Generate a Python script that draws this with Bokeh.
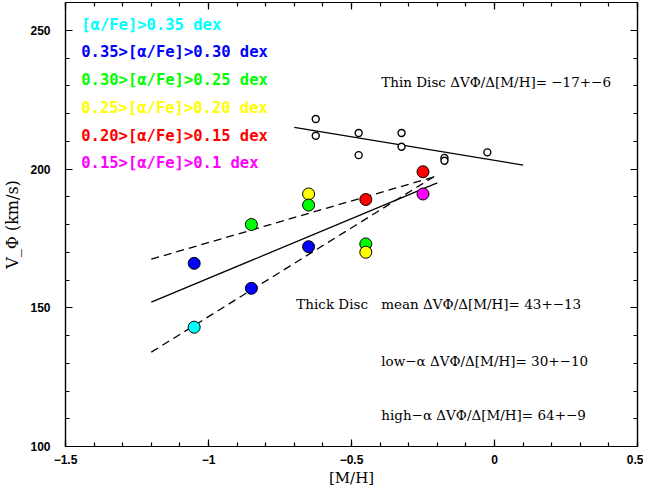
import numpy as np
from bokeh.plotting import figure
from bokeh.models import Range1d, LinearAxis, SingleIntervalTicker, ColumnDataSource
from bokeh.core.properties import value
from bokeh.embed import file_html
from bokeh.resources import INLINE

# ---- data ----
# thick disc, binned in [alpha/Fe]
thick_mh = [-1.05, -1.05, -0.85, -0.85, -0.65, -0.65, -0.65, -0.45, -0.45, -0.45, -0.25, -0.25]
thick_vphi = [143, 166, 157, 180, 191, 187, 172, 189, 173, 170, 199, 191]
thick_bin = [0, 1, 1, 2, 3, 2, 1, 4, 2, 3, 4, 5]
bin_colors = ["#00ffff", "#0000ff", "#00ff00", "#ffff00", "#ff0000", "#ff00ff"]
bin_labels = ["[α/Fe]>0.35 dex", "0.35>[α/Fe]>0.30 dex", "0.30>[α/Fe]>0.25 dex",
              "0.25>[α/Fe]>0.20 dex", "0.20>[α/Fe]>0.15 dex", "0.15>[α/Fe]>0.1 dex"]
legend_y = [252, 242, 232, 222, 212, 202]
legend_x = -1.445

# thin disc
thin_mh = [-0.625, -0.625, -0.475, -0.475, -0.325, -0.325, -0.175, -0.175, -0.025]
thin_vphi = [218, 212, 213, 205, 213, 208, 204, 203, 206]

# linear fits: slope, intercept, x-range
fit_slope = [43, 30, 64]          # mean, low-alpha, high-alpha (thick)
fit_icpt = [203.6, 203.5, 210.8]
fit_dash = ["solid", "8 5", "8 5"]
thick_fit_range = [-1.2, -0.2]
thin_slope = -17
thin_icpt = 203.1
thin_fit_range = [-0.7, 0.1]

ann_text = ["Thin Disc ΔVΦ/Δ[M/H]=  −17+−6", "Thick Disc", "mean ΔVΦ/Δ[M/H]= 43+−13",
            "low−α ΔVΦ/Δ[M/H]= 30+−10", "high−α ΔVΦ/Δ[M/H]= 64+−9"]
ann_x = [-0.396, -0.693, -0.396, -0.396, -0.396]
ann_y = [231.2, 151.2, 151.2, 130.8, 111.2]

x_ticks = [-1.5, -1.0, -0.5, 0.0, 0.5]
x_tick_labels = ["−1.5", "−1", "−0.5", "0", "0.5"]
y_ticks = [100, 150, 200, 250]
y_tick_labels = ["100", "150", "200", "250"]

# ---- figure ----
p = figure(x_range=Range1d(-1.5, 0.5), y_range=Range1d(100, 260),
           frame_width=572, frame_height=444,
           min_border_left=58, min_border_right=6, min_border_top=2, min_border_bottom=36,
           output_backend="svg", toolbar_location=None,
           background_fill_color="white", border_fill_color="white")
p.xgrid.visible = False
p.ygrid.visible = False
p.outline_line_color = "black"
p.outline_line_width = 1.2

p.xaxis.ticker = SingleIntervalTicker(interval=0.5, num_minor_ticks=5)
p.yaxis.ticker = SingleIntervalTicker(interval=50, num_minor_ticks=5)
p.xaxis.major_label_overrides = dict(zip(x_ticks, x_tick_labels))
p.yaxis.major_label_overrides = dict(zip(y_ticks, y_tick_labels))

def style_axis(ax, labels=True):
    ax.major_tick_in = 7
    ax.major_tick_out = 0
    ax.minor_tick_in = 4
    ax.minor_tick_out = 0
    ax.axis_line_color = "black"
    ax.axis_line_width = 1.2
    ax.major_tick_line_width = 1.2
    ax.minor_tick_line_width = 1.2
    if labels:
        ax.major_label_text_font = "Liberation Sans"
        ax.major_label_text_font_style = "bold"
        ax.major_label_text_font_size = "12px"
        ax.major_label_text_color = "black"
        ax.axis_label_text_font = "DejaVu Serif"
        ax.axis_label_text_font_style = "normal"
        ax.axis_label_text_color = "black"
    else:
        ax.major_label_text_font_size = "1px"
        ax.major_label_text_alpha = 0
        ax.major_label_text_color = None
        ax.major_label_standoff = 0

style_axis(p.xaxis[0])
style_axis(p.yaxis[0])
p.xaxis.axis_label = "[M/H]"
p.xaxis.axis_label_text_font_size = "15px"
p.xaxis.major_label_standoff = 8
p.xaxis.axis_label_standoff = 2
p.yaxis.axis_label = "V_Φ (km/s)"
p.yaxis.axis_label_text_font_size = "16px"
p.yaxis.major_label_standoff = 15
p.yaxis.axis_label_standoff = 5

top = LinearAxis(ticker=SingleIntervalTicker(interval=0.5, num_minor_ticks=5))
style_axis(top, labels=False)
p.add_layout(top, "above")
right = LinearAxis(ticker=SingleIntervalTicker(interval=50, num_minor_ticks=5))
style_axis(right, labels=False)
p.add_layout(right, "right")

# fits
tx = np.array(thick_fit_range)
for s, c, d in zip(fit_slope, fit_icpt, fit_dash):
    p.line(tx, c + s * tx, line_color="black", line_width=1.3, line_dash=d)
nx = np.array(thin_fit_range)
p.line(nx, thin_icpt + thin_slope * nx, line_color="black", line_width=1.3)

# points
src = ColumnDataSource(dict(x=thick_mh, y=thick_vphi, c=[bin_colors[b] for b in thick_bin]))
p.scatter("x", "y", source=src, size=12, fill_color="c", line_color="black", line_width=1)
p.scatter(thin_mh, thin_vphi, size=7, fill_color="white", line_color="black", line_width=1.4)

# legend texts
p.text([legend_x] * len(bin_labels), legend_y, text=bin_labels, text_color=bin_colors,
       text_font=value("DejaVu Sans Mono"), text_font_style="bold", text_font_size="15.5px",
       text_baseline="middle", text_align="left")

# annotations
p.text(ann_x, ann_y, text=ann_text, text_color="black",
       text_font=value("DejaVu Serif"), text_font_size="13.5px",
       text_baseline="middle", text_align="left")

open("out.html", "w").write(file_html(p, INLINE))
